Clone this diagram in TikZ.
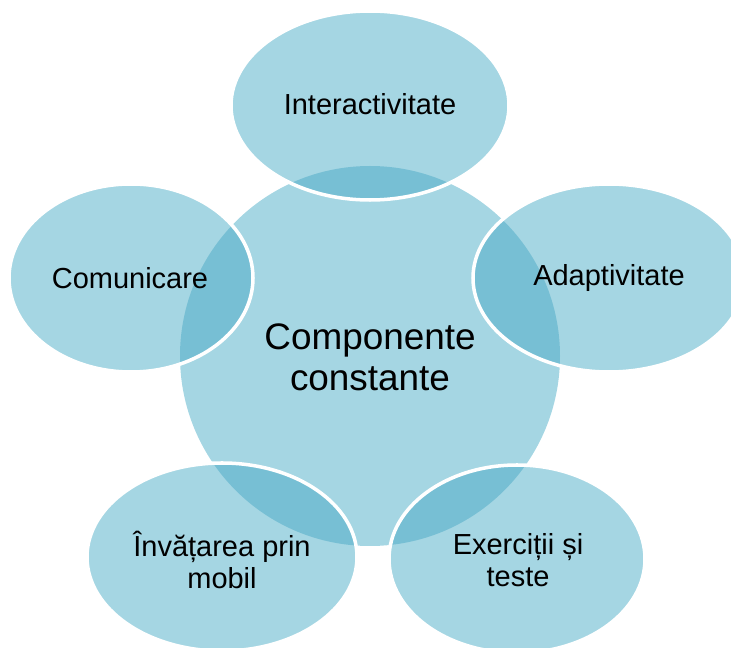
\documentclass[tikz,border=0pt]{standalone}
\usepackage{fontspec}
\setmainfont{Liberation Sans}
\definecolor{lightb}{HTML}{A5D6E3}
\definecolor{darkb}{HTML}{77BFD4}
\begin{document}
\begin{tikzpicture}[x=0.02cm,y=-0.02cm,
  lab/.style={align=center,font=\fontsize{16.5}{18}\selectfont,text=black,inner sep=0pt},
  biglab/.style={align=center,font=\fontsize{21}{23.2}\selectfont,text=black,inner sep=0pt},
  rim/.style={draw=white,line width=2pt}]
\useasboundingbox (0,0) rectangle (731,648);
\clip (0,0) rectangle (731,648);
\fill[lightb] (370,356) circle [radius=190];
\foreach \cx/\cy/\rx/\ry in {370/105.5/139/94.5, 609/278/136/94, 517/559/128/94, 222/557/135/94, 131/278/122/94}{
  \fill[lightb] (\cx,\cy) ellipse [x radius=\rx, y radius=\ry];
  \begin{scope}
    \clip (370,356) circle [radius=190];
    \fill[darkb] (\cx,\cy) ellipse [x radius=\rx, y radius=\ry];
  \end{scope}
  \draw[rim] (\cx,\cy) ellipse [x radius=\rx, y radius=\ry];
}
\node[biglab] (center) at (370,357) {Componente\\constante};
\node[lab] (inter) at (370,104) {Interactivitate};
\node[lab] (adapt) at (609,278) {Adaptivitate};
\node[lab] (exer) at (518,560) {Exerciții și\\teste};
\node[lab] (mobil) at (222,560) {Învățarea prin\\mobil};
\node[lab] (comun) at (130,278) {Comunicare};
\end{tikzpicture}
\end{document}
